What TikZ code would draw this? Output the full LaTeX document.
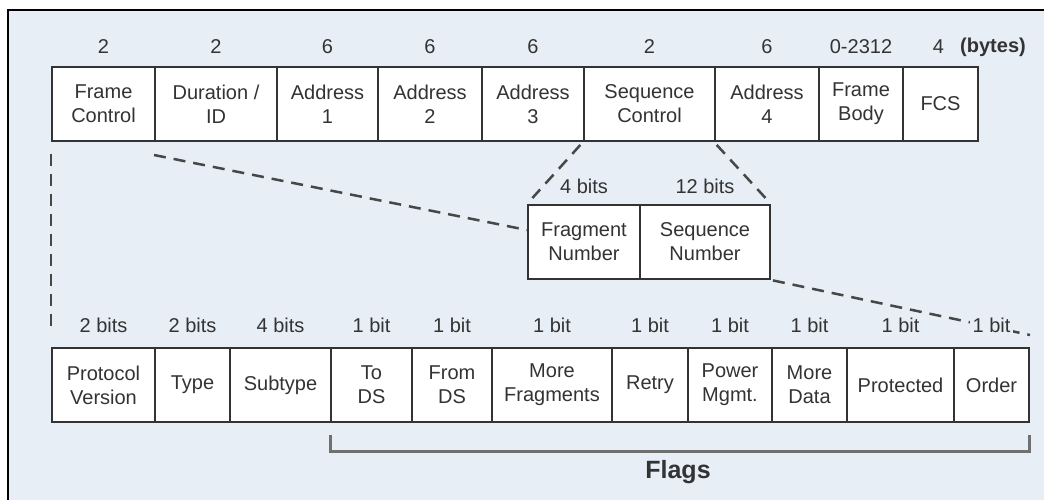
\documentclass[tikz,border=0pt]{standalone}
\usepackage{fontspec}
\setmainfont{Liberation Sans}
\definecolor{bg}{HTML}{E8EEF6}
\definecolor{ink}{HTML}{333333}
\definecolor{brk}{HTML}{707070}
\begin{document}
\begin{tikzpicture}[x=1pt,y=-1pt,
  every node/.style={font=\fontsize{20}{24}\selectfont, text=ink},
  fbox/.style={draw=ink, line width=2pt, fill=white, align=center, inner sep=0pt, anchor=north west},
  lbl/.style={inner sep=0pt},
  dashline/.style={draw=ink!90, line width=2.5pt, dash pattern=on 12pt off 8pt}]
\useasboundingbox (0,0) rectangle (1044,500);
\fill[white] (0,0) rectangle (1044,500);
\fill[bg] (8,10) rectangle (1044,500);
\draw[black, line width=2pt] (8,500) -- (8,10) -- (1044,10);
% top row
\node[fbox, minimum width=103, minimum height=74] (fc) at (51,66) {Frame\\Control};
\node[fbox, minimum width=122, minimum height=74] (dur) at (154,66) {Duration /\\ID};
\node[fbox, minimum width=101, minimum height=74] (a1) at (276,66) {Address\\1};
\node[fbox, minimum width=104, minimum height=74] (a2) at (377,66) {Address\\2};
\node[fbox, minimum width=102, minimum height=74] (a3) at (481,66) {Address\\3};
\node[fbox, minimum width=131, minimum height=74] (sc) at (583,66) {Sequence\\Control};
\node[fbox, minimum width=104, minimum height=74] (a4) at (714,66) {Address\\4};
\node[fbox, minimum width=84, minimum height=74] (fb) at (818,66) {Frame\\Body};
\node[fbox, minimum width=75, minimum height=74] (fcs) at (902,66) {FCS};
\foreach \n/\t in {fc/2,dur/2,a1/6,a2/6,a3/6,sc/2,a4/6,fb/0-2312}
  \node[lbl] (l\n) at ([yshift=19pt]\n.north) {\t};
\node[lbl] (lfcs) at ([xshift=-2pt,yshift=19pt]fcs.north) {4};
\node[lbl, font=\fontsize{20}{24}\selectfont\bfseries] (bytes) at (993,47) {(bytes)};
% middle
\node[fbox, minimum width=112, minimum height=74] (fn) at (527,204) {Fragment\\Number};
\node[fbox, minimum width=130, minimum height=74] (sn) at (639,204) {Sequence\\Number};
\node[lbl] (lfn) at ([yshift=18pt]fn.north) {4 bits};
\node[lbl] (lsn) at ([yshift=18pt]sn.north) {12 bits};
% bottom row
\node[fbox, minimum width=103, minimum height=74] (pv) at (51,347) {Protocol\\Version};
\node[fbox, minimum width=75, minimum height=74] (ty) at (154,347) {Type};
\node[fbox, minimum width=101, minimum height=74] (st) at (229,347) {Subtype};
\node[fbox, minimum width=81, minimum height=74] (tds) at (330,347) {To\\DS};
\node[fbox, minimum width=80, minimum height=74] (fds) at (411,347) {From\\DS};
\node[fbox, minimum width=120, minimum height=74] (mf) at (491,347) {More\\Fragments};
\node[fbox, minimum width=76, minimum height=74] (re) at (611,347) {Retry};
\node[fbox, minimum width=84, minimum height=74] (pm) at (687,347) {Power\\Mgmt.};
\node[fbox, minimum width=75, minimum height=74] (md) at (771,347) {More\\Data};
\node[fbox, minimum width=107, minimum height=74] (pr) at (846,347) {Protected};
\node[fbox, minimum width=75, minimum height=74] (ord) at (953,347) {Order};
% dashed connectors
\draw[dashline, shorten <=4pt, shorten >=8pt] (sc.south west) -- (fn.north west);
\draw[dashline, shorten <=4pt, shorten >=8pt] (a4.south west) -- (sn.north east);
\coordinate (dstart) at ([yshift=-13pt]dur.south west);
\draw[dashline] (dstart) -- ([yshift=12pt]fn.west);
\draw[dashline, shorten <=2pt] (sn.south east) -- ([yshift=12pt]ord.north east);
\draw[dashline] ([yshift=-12pt]fc.south west) -- ([yshift=17pt]pv.north west);
% bottom labels (drawn over the dashed line)
\foreach \n/\t in {pv/2 bits,ty/2 bits,st/4 bits,tds/1 bit,fds/1 bit,mf/1 bit,re/1 bit,pm/1 bit,md/1 bit,pr/1 bit,ord/1 bit}
  \node[lbl, fill=bg, inner sep=3pt] (l\n) at ([yshift=22pt]\n.north) {\t};
% flags bracket
\draw[brk, line width=3pt] ([yshift=-12pt]tds.south west) -- ([yshift=-28pt]tds.south west) -| ([yshift=-12pt,xshift=-1pt]ord.south east);
\node[lbl, font=\fontsize{25}{30}\selectfont\bfseries] (flags) at (678,472) {Flags};
\end{tikzpicture}
\end{document}
